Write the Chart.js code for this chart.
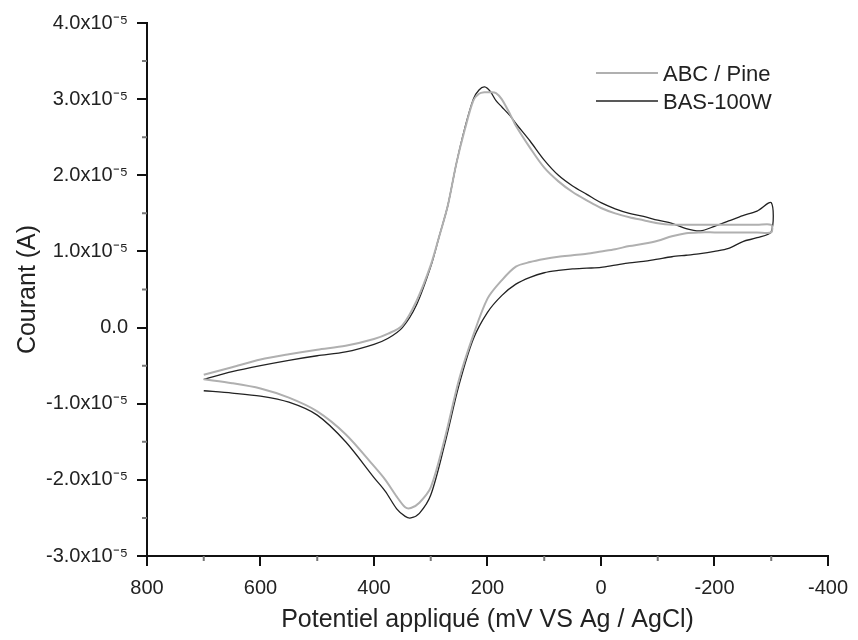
<!DOCTYPE html>
<html>
<head>
<meta charset="utf-8">
<script src="https://cdn.jsdelivr.net/npm/chart.js@4"></script>
<style>
  html, body { margin: 0; padding: 0; background: #fff; }
  #wrap { width: 858px; height: 640px; }
</style>
</head>
<body>
<div id="wrap"><canvas id="cv"></canvas></div>
<script>
// potentiel (mV), aller de 700 vers -300 puis retour
const potAller = [700, 650, 600, 550, 500, 450, 400, 375, 350, 325, 300, 285, 270, 255, 240, 225, 215, 205, 195, 185, 175, 160, 150, 125, 100, 75, 50, 25, 0, -25, -50, -75, -100, -125, -150, -175, -200, -225, -250, -275, -300];
const potRetour = [-300, -275, -250, -225, -200, -175, -150, -125, -100, -75, -50, -25, 0, 25, 50, 75, 100, 125, 150, 175, 200, 225, 250, 275, 300, 320, 335, 345, 360, 380, 400, 450, 500, 550, 600, 650, 700];

// courant en unités de 1e-5 A
const pineAller = [-0.62, -0.52, -0.42, -0.35, -0.29, -0.24, -0.15, -0.08, 0.03, 0.35, 0.82, 1.2, 1.6, 2.15, 2.6, 2.98, 3.07, 3.09, 3.09, 3.08, 3.0, 2.8, 2.65, 2.36, 2.1, 1.92, 1.78, 1.67, 1.57, 1.5, 1.45, 1.41, 1.37, 1.35, 1.35, 1.35, 1.35, 1.35, 1.35, 1.35, 1.35];
const pineRetour = [1.25, 1.25, 1.25, 1.25, 1.25, 1.25, 1.24, 1.2, 1.14, 1.1, 1.07, 1.03, 1.0, 0.97, 0.95, 0.93, 0.9, 0.86, 0.8, 0.62, 0.38, -0.1, -0.68, -1.45, -2.1, -2.3, -2.37, -2.36, -2.22, -2.0, -1.82, -1.4, -1.1, -0.92, -0.8, -0.73, -0.68];

const basAller = [-0.68, -0.58, -0.5, -0.43, -0.37, -0.32, -0.22, -0.14, 0.0, 0.3, 0.8, 1.2, 1.6, 2.15, 2.62, 3.0, 3.12, 3.16, 3.1, 2.98, 2.9, 2.78, 2.68, 2.45, 2.2, 2.0, 1.86, 1.75, 1.64, 1.56, 1.5, 1.46, 1.41, 1.37, 1.3, 1.27, 1.33, 1.4, 1.47, 1.53, 1.64];
const basRetour = [1.26, 1.18, 1.13, 1.04, 1.0, 0.97, 0.95, 0.93, 0.9, 0.87, 0.85, 0.82, 0.79, 0.78, 0.77, 0.75, 0.72, 0.66, 0.57, 0.42, 0.2, -0.15, -0.75, -1.52, -2.2, -2.44, -2.5, -2.48, -2.38, -2.15, -1.97, -1.5, -1.15, -0.98, -0.9, -0.86, -0.83];

const xMineurs = [700, 500, 300, 100, -100, -300];
const yMineurs = [3.5, 2.5, 1.5, 0.5, -0.5, -1.5, -2.5];

const police = '"Liberation Sans", Arial, sans-serif';

function points(pots, vals) {
  return pots.map((p, i) => ({ x: p, y: vals[i] * 1e-5 }));
}

const legende = {
  id: 'legende',
  afterDraw(chart) {
    const { ctx, chartArea } = chart;
    const x0 = chartArea.right - 232;
    const y0 = chartArea.top + 50;
    chart.data.datasets.forEach((ds, i) => {
      const y = y0 + i * 28;
      ctx.save();
      ctx.strokeStyle = ds.borderColor;
      ctx.lineWidth = ds.borderWidth;
      ctx.beginPath();
      ctx.moveTo(x0, y);
      ctx.lineTo(x0 + 62, y);
      ctx.stroke();
      ctx.fillStyle = '#222';
      ctx.font = '22px ' + police;
      ctx.textBaseline = 'middle';
      ctx.fillText(ds.label, x0 + 67, y + 2);
      ctx.restore();
    });
  }
};

const mineurs = {
  id: 'mineurs',
  afterDraw(chart) {
    const { ctx, chartArea, scales } = chart;
    ctx.save();
    ctx.strokeStyle = '#777';
    ctx.lineWidth = 2;
    ctx.beginPath();
    xMineurs.forEach(v => {
      const px = scales.x.getPixelForValue(v);
      ctx.moveTo(px, chartArea.bottom);
      ctx.lineTo(px, chartArea.bottom + 5);
    });
    yMineurs.forEach(v => {
      const py = scales.y.getPixelForValue(v * 1e-5);
      ctx.moveTo(chartArea.left, py);
      ctx.lineTo(chartArea.left - 5, py);
    });
    ctx.stroke();
    ctx.restore();
  }
};

new Chart(document.getElementById('cv'), {
  type: 'scatter',
  data: {
    datasets: [
      {
        label: 'ABC / Pine',
        data: points(potAller, pineAller).concat(points(potRetour, pineRetour)),
        borderColor: '#b0b0b0',
        backgroundColor: '#b0b0b0',
        borderWidth: 2,
        showLine: true,
        pointRadius: 0,
        tension: 0.3
      },
      {
        label: 'BAS-100W',
        data: points(potAller, basAller).concat(points(potRetour, basRetour)),
        borderColor: '#222',
        backgroundColor: '#222',
        borderWidth: 1.3,
        showLine: true,
        pointRadius: 0,
        tension: 0.3
      }
    ]
  },
  options: {
    responsive: true,
    maintainAspectRatio: false,
    animation: false,
    layout: { padding: { top: 23, right: 26, left: 0, bottom: 0 } },
    plugins: {
      legend: { display: false },
      tooltip: { enabled: false }
    },
    scales: {
      x: {
        type: 'linear',
        reverse: true,
        min: -400,
        max: 800,
        afterFit: s => { s.height = 84; },
        border: { display: true, color: '#111', width: 2 },
        grid: { drawOnChartArea: false, drawTicks: true, tickLength: 10, tickColor: '#111', lineWidth: 2 },
        ticks: {
          stepSize: 200,
          padding: 10,
          color: '#222',
          font: { family: police, size: 20 }
        },
        title: {
          display: true,
          text: 'Potentiel appliqué (mV VS Ag / AgCl)',
          color: '#222',
          font: { family: police, size: 25 },
          padding: { top: 0, bottom: 5 }
        }
      },
      y: {
        min: -3e-5,
        max: 4e-5,
        afterFit: s => { s.width = 147; },
        border: { display: true, color: '#111', width: 2 },
        grid: { drawOnChartArea: false, drawTicks: true, tickLength: 10, tickColor: '#111', lineWidth: 2 },
        ticks: {
          stepSize: 1e-5,
          padding: 9,
          color: '#222',
          font: { family: police, size: 20 },
          callback: v => {
            const m = Math.round(v / 1e-6) / 10;
            if (m === 0) return '0.0';
            return m.toFixed(1) + 'x10⁻⁵';
          }
        },
        title: {
          display: true,
          text: 'Courant (A)',
          color: '#222',
          font: { family: police, size: 25 },
          padding: { top: 13, bottom: 0 }
        }
      }
    }
  },
  plugins: [legende, mineurs]
});
</script>
</body>
</html>
